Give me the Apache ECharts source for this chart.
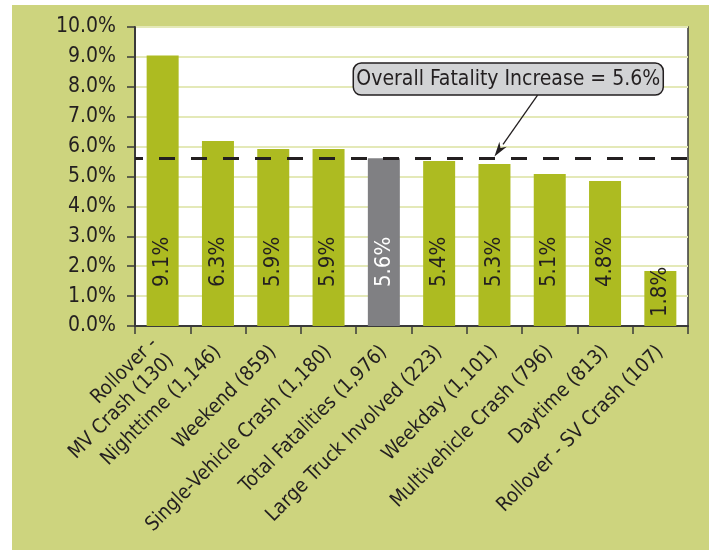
<!DOCTYPE html>
<html>
<head>
<meta charset="utf-8">
<script src="https://cdn.jsdelivr.net/npm/echarts@6/dist/echarts.min.js"></script>
<style>
  html, body { margin: 0; padding: 0; background: #ffffff; }
  #wrap { position: relative; width: 709px; height: 550px; overflow: hidden; }
  #bg { position: absolute; left: 12px; top: 5px; right: 0; bottom: 0; background: #cdd47e; }
  #chart { position: absolute; left: 0; top: 0; width: 709px; height: 550px; }
</style>
</head>
<body>
<div id="wrap"><div id="bg"></div><div id="chart"></div></div>
<script>
const categories = [
  'Rollover -\nMV Crash (130)',
  'Nighttime (1,146)',
  'Weekend (859)',
  'Single-Vehicle Crash (1,180)',
  'Total Fatalities (1,976)',
  'Large Truck Involved (223)',
  'Weekday (1,101)',
  'Multivehicle Crash (796)',
  'Daytime (813)',
  'Rollover - SV Crash (107)'
];
const barValues = [9.05, 6.19, 5.92, 5.92, 5.61, 5.52, 5.42, 5.08, 4.85, 1.84];
const barLabels = ['9.1%', '6.3%', '5.9%', '5.9%', '5.6%', '5.4%', '5.3%', '5.1%', '4.8%', '1.8%'];
const highlightIndex = 4;
const overallIncrease = 5.6;
const annotationText = 'Overall Fatality Increase = 5.6%';
const yTicks = { min: 0, max: 10, interval: 1 };

function hasFont(name) {
  const ctx = document.createElement('canvas').getContext('2d');
  const s = 'abcdefghijklmnopqrstuvwxyz0123456789%';
  ctx.font = '40px monospace';
  const w0 = ctx.measureText(s).width;
  ctx.font = '40px "' + name + '", monospace';
  return Math.abs(ctx.measureText(s).width - w0) > 0.5;
}
const narrow = hasFont('Liberation Sans Narrow');
const FONT = narrow ? '"Liberation Sans Narrow", sans-serif' : '"DejaVu Sans Condensed", sans-serif';
const SZ = narrow
  ? { y: 25, x: 24, lh: 26, bar: 26, note: 25 }
  : { y: 21, x: 20, lh: 23, bar: 22, note: 21 };

const GREEN = '#adbb21';
const GRAY = '#808083';
const INK = '#231f20';

const chart = echarts.init(document.getElementById('chart'), null, { renderer: 'canvas' });

const data = barValues.map((v, i) => {
  const isHi = i === highlightIndex;
  const small = v < 3;
  return {
    value: v,
    itemStyle: { color: isHi ? GRAY : GREEN },
    label: {
      color: isHi ? '#ffffff' : INK,
      distance: small ? 9 : 39,
      formatter: () => barLabels[i]
    }
  };
});

chart.setOption({
  backgroundColor: 'transparent',
  animation: false,
  grid: {
    left: 135, top: 27, right: 21, bottom: 224,
    show: true, backgroundColor: '#ffffff', borderColor: '#3a3a3a', borderWidth: 1.5
  },
  xAxis: {
    type: 'category',
    data: categories,
    axisLine: { lineStyle: { color: '#3a3a3a', width: 2 } },
    axisTick: { show: true, length: 8, lineStyle: { color: '#3a3a3a', width: 1.5 } },
    axisLabel: {
      interval: 0, rotate: 45, margin: 23, padding: [17, 0, 0, 0],
      fontFamily: FONT, fontSize: SZ.x, color: INK, lineHeight: SZ.lh
    }
  },
  yAxis: {
    type: 'value',
    min: yTicks.min, max: yTicks.max, interval: yTicks.interval,
    axisLine: { show: true, lineStyle: { color: '#3a3a3a', width: 2 } },
    axisTick: { show: true, inside: false, length: 8, lineStyle: { color: '#3a3a3a', width: 1.5 } },
    axisLabel: {
      margin: 19, fontFamily: FONT, fontSize: SZ.y, color: INK,
      formatter: v => v.toFixed(1) + '%'
    },
    splitLine: { show: true, lineStyle: { color: '#e4e9b8', width: 2 } }
  },
  series: [{
    type: 'bar',
    data: data,
    barWidth: 32,
    label: {
      show: true,
      position: 'insideBottom',
      rotate: 90,
      align: 'left',
      verticalAlign: 'middle',
      fontFamily: FONT,
      fontSize: SZ.bar
    },
    markLine: {
      silent: true,
      symbol: 'none',
      label: { show: false },
      lineStyle: { color: INK, width: 3, type: [16, 16], dashOffset: 8 },
      data: [{ yAxis: overallIncrease }]
    }
  }]
});

function placeAnnotation() {
  const p = (idx, val) => chart.convertToPixel({ gridIndex: 0 }, [idx, val]);
  const a = p(6, 0), b = p(7, 0);
  const step = b[0] - a[0];
  const xAt = f => a[0] + (f - 6) * step;
  const yAt = v => p(0, v)[1];
  const boxCx = xAt(6.25);
  const boxCy = yAt(8.26);
  const boxW = 310, boxH = 32;
  const tip = [xAt(6), yAt(overallIncrease) - 2];
  const start = [xAt(6.78), boxCy + boxH / 2];
  const ang = Math.atan2(tip[1] - start[1], tip[0] - start[0]);
  const hl = 15, hw = 4.5;
  const bx = tip[0] - hl * Math.cos(ang), by = tip[1] - hl * Math.sin(ang);
  const nx = -Math.sin(ang), ny = Math.cos(ang);
  chart.setOption({
    graphic: [
      {
        type: 'line', z: 100,
        shape: { x1: start[0], y1: start[1], x2: bx, y2: by },
        style: { stroke: INK, lineWidth: 1.3 }
      },
      {
        type: 'polygon', z: 100,
        shape: { points: [tip, [bx + nx * hw, by + ny * hw], [bx + hl * 0.3 * Math.cos(ang), by + hl * 0.3 * Math.sin(ang)], [bx - nx * hw, by - ny * hw]] },
        style: { fill: INK }
      },
      {
        type: 'rect', z: 100,
        shape: { x: boxCx - boxW / 2, y: boxCy - boxH / 2, width: boxW, height: boxH, r: 8 },
        style: { fill: '#d2d3d5', stroke: INK, lineWidth: 1.5 }
      },
      {
        type: 'text', z: 101,
        x: boxCx, y: boxCy + 1,
        style: {
          text: annotationText, fontFamily: FONT, fontSize: SZ.note, fill: INK,
          align: 'center', verticalAlign: 'middle'
        }
      }
    ]
  });
}
placeAnnotation();
</script>
</body>
</html>
